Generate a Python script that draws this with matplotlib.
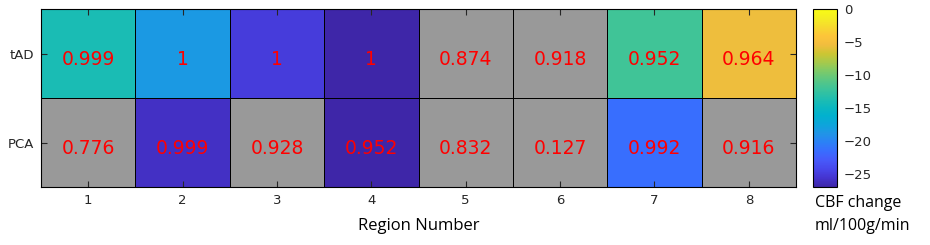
import numpy as np
import matplotlib
matplotlib.use("Agg")
import matplotlib.pyplot as plt
from matplotlib.colors import LinearSegmentedColormap

# ---- data ----
regions = [1, 2, 3, 4, 5, 6, 7, 8]
groups = ["tAD", "PCA"]
cbf_tad = [-14.0, -18.5, -25.0, -27.0, np.nan, np.nan, -12.0, -5.5]
cbf_pca = [np.nan, -26.0, np.nan, -27.0, np.nan, np.nan, -21.5, np.nan]
p_tad = ["0.999", "1", "1", "1", "0.874", "0.918", "0.952", "0.964"]
p_pca = ["0.776", "0.999", "0.928", "0.952", "0.832", "0.127", "0.992", "0.916"]
cbar_ticks = [0, -5, -10, -15, -20, -25]
vmin, vmax = -27, 0

# parula-like colormap
parula_anchors = [
    (0.2422, 0.1504, 0.6603), (0.2691, 0.2041, 0.8125), (0.2803, 0.2782, 0.9221),
    (0.2758, 0.3524, 0.9801), (0.2253, 0.4248, 0.9968), (0.1707, 0.5050, 0.9655),
    (0.1258, 0.5826, 0.9041), (0.0507, 0.6464, 0.8595), (0.0057, 0.6933, 0.8085),
    (0.0475, 0.7192, 0.7494), (0.1328, 0.7457, 0.6819), (0.2359, 0.7667, 0.6052),
    (0.3502, 0.7793, 0.5174), (0.4865, 0.7918, 0.4136), (0.6470, 0.7899, 0.2979),
    (0.8047, 0.7750, 0.1999), (0.9446, 0.7419, 0.2422), (0.9928, 0.7715, 0.2249),
    (0.9667, 0.8509, 0.1837), (0.9580, 0.9309, 0.1358), (0.9769, 0.9839, 0.0805),
]
cmap = LinearSegmentedColormap.from_list("parula", parula_anchors, N=256)
cmap.set_bad("#999999")

data = np.ma.masked_invalid(np.array([cbf_tad, cbf_pca], dtype=float))
labels = [p_tad, p_pca]

fig = plt.figure(figsize=(9.30, 2.45), dpi=100)
W, H = 930, 245
ax = fig.add_axes([41 / W, 1 - 187 / H, (796 - 41) / W, (187 - 9) / H])
cax = fig.add_axes([813 / W, 1 - 187 / H, (837 - 813) / W, (187 - 9) / H])

xe = np.arange(len(regions) + 1) + 0.5
ye = np.arange(len(groups) + 1) + 0.5
mesh = ax.pcolormesh(xe, ye, data, cmap=cmap, vmin=vmin, vmax=vmax,
                     edgecolors="black", linewidth=0.7)
ax.set_xlim(0.5, len(regions) + 0.5)
ax.set_ylim(len(groups) + 0.5, 0.5)

for i in range(len(groups)):
    for j in range(len(regions)):
        ax.text(regions[j], i + 1 + 0.07, labels[i][j], color="red",
                ha="center", va="center", fontsize=13.5, family="DejaVu Sans")

ax.set_xticks(regions)
ax.set_xticklabels([str(r) for r in regions])
ax.set_yticks([1, 2])
ax.set_yticklabels(groups)
ax.tick_params(direction="in", length=4, width=0.8, color="#262626",
               top=True, right=True, labelsize=9.5, labelcolor="#262626", pad=5)
for lab in ax.get_xticklabels() + ax.get_yticklabels():
    lab.set_family("DejaVu Sans")
for sp in ax.spines.values():
    sp.set_linewidth(0.8)
ax.set_xlabel("Region Number", fontsize=12, family="Open Sans", labelpad=8)

cb = fig.colorbar(mesh, cax=cax, ticks=cbar_ticks)
cb.outline.set_linewidth(0.8)
cax.tick_params(length=0, labelsize=9.5, pad=5, labelcolor="#262626")
for lab in cax.get_yticklabels():
    lab.set_family("DejaVu Sans")
fig.text(815 / W, 1 - 195 / H, "CBF change\nml/100g/min", ha="left", va="top",
         fontsize=11.5, family="Open Sans", linespacing=1.55)

fig.savefig("out.png", dpi=100)
